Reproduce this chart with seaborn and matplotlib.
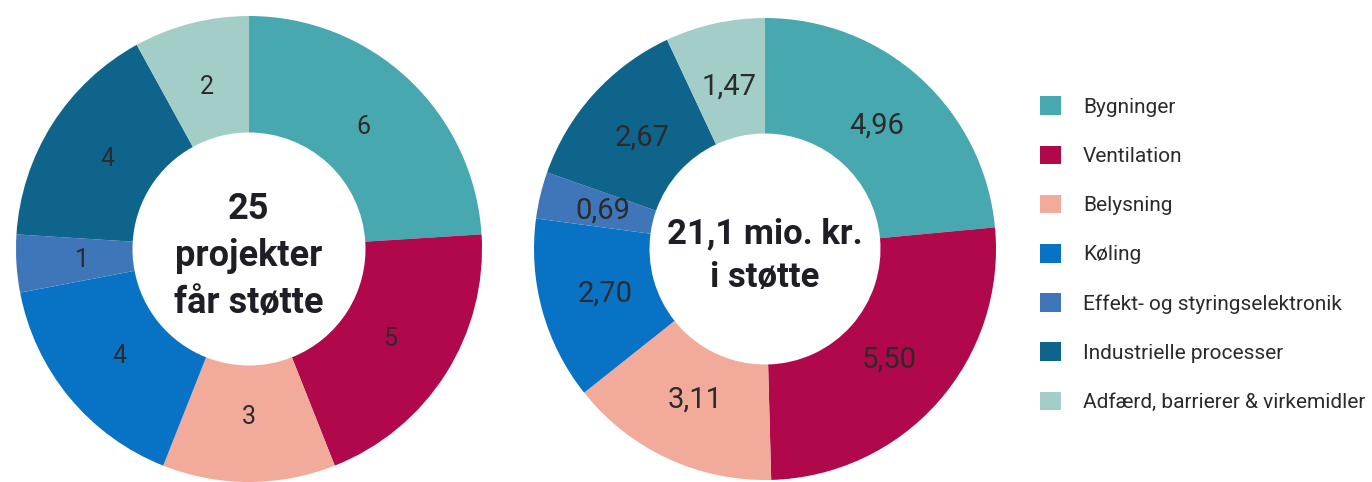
import matplotlib
matplotlib.use("Agg")
import matplotlib.pyplot as plt
import seaborn as sns

categories = ["Bygninger", "Ventilation", "Belysning", "Køling",
              "Effekt- og styringselektronik", "Industrielle processer",
              "Adfærd, barrierer & virkemidler"]
projects = [6, 5, 3, 4, 1, 4, 2]
support = [4.96, 5.50, 3.11, 2.70, 0.69, 2.67, 1.47]
project_labels = ["6", "5", "3", "4", "1", "4", "2"]
support_labels = ["4,96", "5,50", "3,11", "2,70", "0,69", "2,67", "1,47"]
colors = ["#48A8AF", "#B0084A", "#F2AA9B", "#0873C4", "#3E76B9", "#0F648C", "#A3CEC8"]
center_left = "25\nprojekter\nfår støtte"
center_right = "21,1 mio. kr.\ni støtte"

sns.set_theme(style="white")
fam = ["Roboto", "DejaVu Sans"]
plt.rcParams["font.family"] = fam

W, H = 1372, 482
fig = plt.figure(figsize=(W / 100, H / 100), dpi=100)
fig.patch.set_facecolor("white")


def donut(cx, cy, R, values, labels, center_text, label_size, center_size, center_y):
    ax = fig.add_axes([(cx - R) / W, (H - cy - R) / H, 2 * R / W, 2 * R / H])
    wedges, texts = ax.pie(values, colors=colors, startangle=90, counterclock=False,
                           labels=labels, labeldistance=0.72,
                           wedgeprops=dict(width=0.5, linewidth=0),
                           textprops=dict(fontsize=label_size, color="#2b2b2b"))
    for t in texts:
        t.set_ha("center")
        t.set_va("center")
    ax.text(0, center_y, center_text, ha="center", va="center", fontsize=center_size,
            fontweight="bold", color="#1e1e26", linespacing=1.4)
    ax.set_xlim(-1, 1)
    ax.set_ylim(-1, 1)
    ax.set_aspect("equal")
    ax.axis("off")
    return wedges


wedges = donut(249, 249, 233, projects, project_labels, center_left, 18, 26, -0.03)
donut(765, 249, 231, support, support_labels, center_right, 21, 25, -0.03)

fig.legend(handles=wedges, labels=categories, loc="upper left",
           bbox_to_anchor=(1030 / W, 1 - 86 / H), frameon=False,
           fontsize=15, handlelength=1.0, handleheight=1.0,
           labelspacing=1.38, handletextpad=1.05, borderpad=0,
           labelcolor="#2b2b2b")

fig.savefig("out.png", dpi=100, facecolor="white")
